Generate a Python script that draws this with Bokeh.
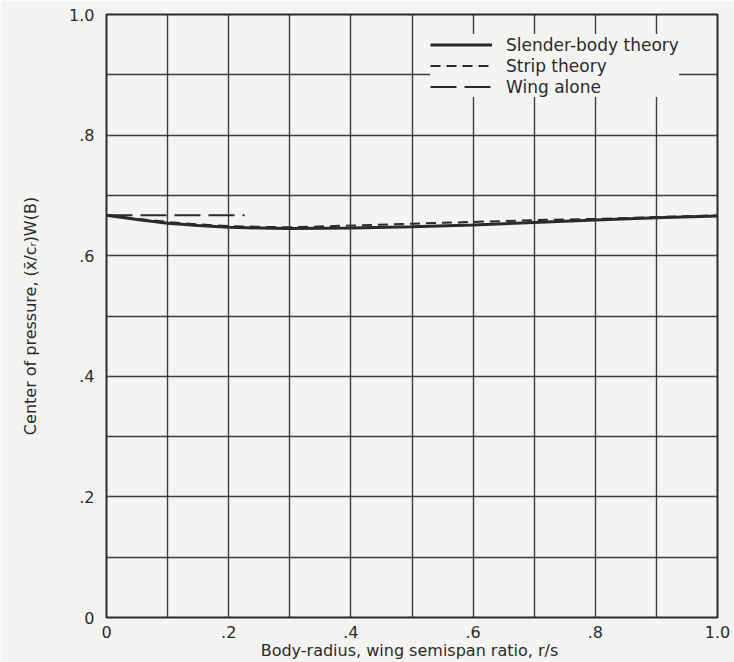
from bokeh.plotting import figure
from bokeh.models import FixedTicker, Legend, LegendItem, Range1d
from bokeh.embed import file_html
from bokeh.resources import INLINE

# ---- data ----
rs = [0.0, 0.05, 0.1, 0.15, 0.2, 0.25, 0.3, 0.4, 0.5, 0.6, 0.7, 0.8, 0.9, 1.0]
slender_body = [0.667, 0.660, 0.654, 0.650, 0.647, 0.646, 0.645, 0.646, 0.648, 0.651, 0.655, 0.659, 0.663, 0.666]
strip_theory = [0.667, 0.661, 0.656, 0.652, 0.649, 0.648, 0.647, 0.650, 0.653, 0.656, 0.659, 0.661, 0.664, 0.667]
wing_alone_x = [0.0, 0.226]
wing_alone_y = [0.667, 0.667]

x_tick_vals = [0, 0.2, 0.4, 0.6, 0.8, 1.0]
x_tick_labels = ["0", ".2", ".4", ".6", ".8", "1.0"]
y_tick_vals = [0, 0.2, 0.4, 0.6, 0.8, 1.0]
y_tick_labels = ["0", ".2", ".4", ".6", ".8", "1.0"]
grid_vals = [round(i * 0.1, 1) for i in range(11)]

BG = "#f4f4f2"
INK = "#2a2a2a"
FONT = "DejaVu Sans"

p = figure(width=734, height=662, output_backend="svg", toolbar_location=None,
           x_range=Range1d(0, 1.0), y_range=Range1d(0, 1.0),
           min_border_left=106, min_border_right=17, min_border_top=14, min_border_bottom=44)
p.background_fill_color = BG
p.border_fill_color = BG
p.outline_line_color = INK
p.outline_line_width = 2

for ax, vals, labels in ((p.xaxis[0], x_tick_vals, x_tick_labels), (p.yaxis[0], y_tick_vals, y_tick_labels)):
    ax.ticker = FixedTicker(ticks=vals)
    ax.major_label_overrides = {v: l for v, l in zip(vals, labels)}
    ax.axis_line_color = None
    ax.major_tick_line_color = None
    ax.minor_tick_line_color = None
    ax.major_label_text_font = FONT
    ax.major_label_text_font_size = "16px"
    ax.major_label_text_color = INK
    ax.axis_label_text_font = FONT
    ax.axis_label_text_font_style = "normal"
    ax.axis_label_text_font_size = "16px"
    ax.axis_label_text_color = INK

p.xaxis.axis_label = "Body-radius, wing semispan ratio,  r/s"
p.yaxis.axis_label = "Center of pressure, (x\u0304/c\u1d63)W(B)"
p.xaxis.major_label_standoff = 2
p.xaxis.axis_label_standoff = 0
p.yaxis.major_label_standoff = 6
p.yaxis.axis_label_standoff = 26

p.xgrid.ticker = FixedTicker(ticks=grid_vals)
p.ygrid.ticker = FixedTicker(ticks=grid_vals)
for g in (p.xgrid[0], p.ygrid[0]):
    g.grid_line_color = INK
    g.grid_line_width = 1.4
    g.grid_line_alpha = 0.9

r_sb = p.line(rs, slender_body, line_color=INK, line_width=3)
r_st = p.line(rs, strip_theory, line_color=INK, line_width=2, line_dash="10 6")
r_wa = p.line(wing_alone_x, wing_alone_y, line_color=INK, line_width=2, line_dash="26 8")

legend = Legend(items=[
    LegendItem(label="Slender-body theory", renderers=[r_sb]),
    LegendItem(label="Strip theory", renderers=[r_st]),
    LegendItem(label="Wing alone", renderers=[r_wa]),
], location=(324, 520))
legend.background_fill_color = BG
legend.background_fill_alpha = 1.0
legend.border_line_color = None
legend.label_text_font = FONT
legend.label_text_font_size = "17px"
legend.label_text_color = INK
legend.glyph_width = 62
legend.glyph_height = 21
legend.label_standoff = 14
legend.spacing = 0
legend.padding = 6
legend.margin = 0
legend.label_height = 21
p.add_layout(legend)

open("out.html", "w").write(file_html(p, INLINE))
